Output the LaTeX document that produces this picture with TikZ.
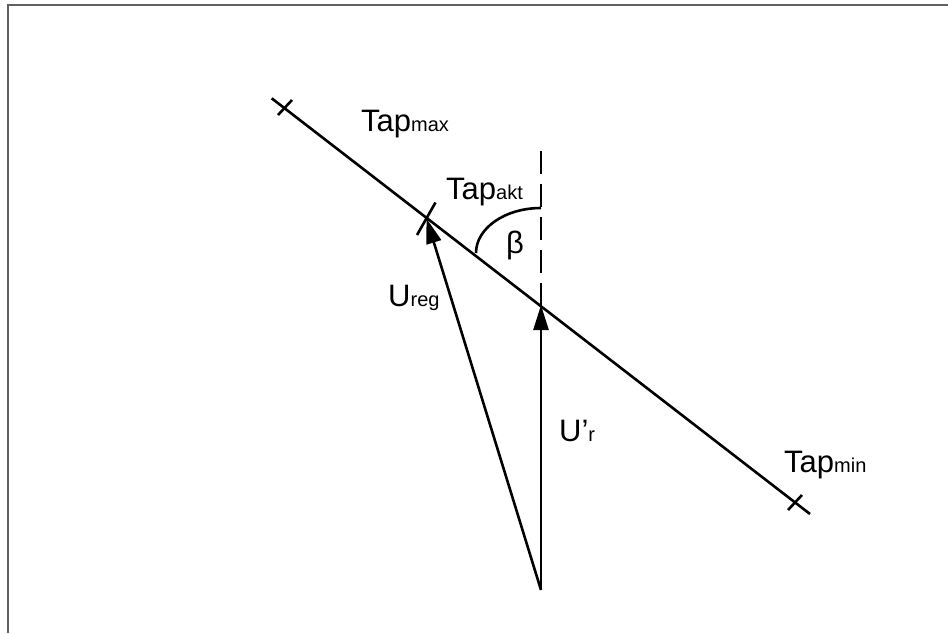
\documentclass[tikz,border=0pt]{standalone}
\usepackage{fontspec}
\setmainfont{Liberation Sans}
\usetikzlibrary{arrows.meta,calc}
\begin{document}
\begin{tikzpicture}[x=1pt,y=-1pt,
  ln/.style={line width=2.6pt,black},
  vec/.style={ln,-{Triangle[length=25pt,width=15pt]}},
  lbl/.style={inner sep=0pt,anchor=base west,font=\fontsize{31}{34}\selectfont},
  frm/.style={line width=2pt,color=black!62}]
\newcommand{\sbs}[1]{{\fontsize{20}{22}\selectfont #1}}
\useasboundingbox (0,0) rectangle (948,633);
% frame
\draw[frm] (948,5) -- (8,5) -- (8,633);
% key points
\coordinate (L1) at (271.7,98.3);
\coordinate (L2) at (810,514);
\coordinate (Tmax) at (285,107.5);
\coordinate (Tmin) at (795,502.5);
\coordinate (Takt) at (426.5,218.5);
\coordinate (P) at (541,305);
\coordinate (O) at (541,590);
\coordinate (D) at (541,151);
% main line
\draw[ln] (L1) -- (L2);
% ticks
\draw[ln] ($(Tmax)+(-7,7.5)$) -- ($(Tmax)+(7,-7.5)$);
\draw[ln] ($(Tmin)+(-7,7.5)$) -- ($(Tmin)+(7,-7.5)$);
\draw[ln] ($(Takt)+(-9.5,16.5)$) -- ($(Takt)+(9,-16)$);
% dashed vertical
\draw[ln,dash pattern=on 23pt off 10pt] (D) -- (P);
% arc beta
\draw[ln] (541,208) arc[start angle=90,end angle=180,x radius=65,y radius=-45];
% vectors
\draw[vec] (O) -- (P);
\draw[vec] (O) -- (Takt);
% labels
\node[lbl] (tmax) at (361,131) {Tap\sbs{max}};
\node[lbl] (takt) at (446,199) {Tap\sbs{akt}};
\node[lbl] (beta) at (506,253) {β};
\node[lbl] (ureg) at (388,306) {U\sbs{reg}};
\node[lbl] (ur) at (559,441) {U’\sbs{r}};
\node[lbl] (tmin) at (784,472) {Tap\sbs{min}};
\end{tikzpicture}
\end{document}
